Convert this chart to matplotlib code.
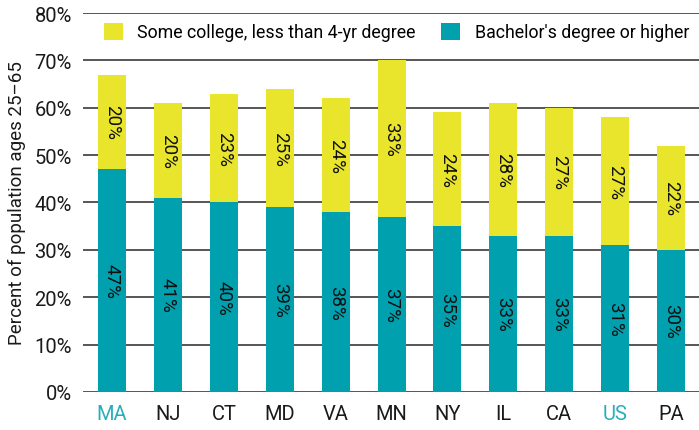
import matplotlib.pyplot as plt
import numpy as np

plt.rcParams['font.family'] = ['Roboto', 'DejaVu Sans']

states = ["MA", "NJ", "CT", "MD", "VA", "MN", "NY", "IL", "CA", "US", "PA"]
bachelor = [47, 41, 40, 39, 38, 37, 35, 33, 33, 31, 30]
some_college = [20, 20, 23, 25, 24, 33, 24, 28, 27, 27, 22]
highlight = ["MA", "US"]

teal = "#00A0AE"
yellow = "#E9E52D"
light_teal = "#27AEBB"

fig = plt.figure(figsize=(6.99, 4.31), dpi=100)
ax = fig.add_axes([0.1187, 0.0882, 0.8813, 0.8793])

x = np.arange(len(states))
ax.bar(x, bachelor, width=0.5, color=teal, zorder=3, label="Bachelor's degree or higher")
ax.bar(x, some_college, width=0.5, bottom=bachelor, color=yellow, zorder=3,
       label="Some college, less than 4-yr degree")

# labels sit in the middle of each segment, reading downward
for i in range(len(states)):
    ax.text(x[i], bachelor[i] / 2, f"{bachelor[i]}%", rotation=270,
            ha="center", va="center", fontsize=13.5, color="#111111", zorder=4)
    ax.text(x[i], bachelor[i] + some_college[i] / 2, f"{some_college[i]}%", rotation=270,
            ha="center", va="center", fontsize=13.5, color="#111111", zorder=4)

ax.set_xlim(-0.52, 10.5)
ax.set_ylim(0, 80)
ax.set_yticks(range(0, 81, 10))
ax.set_yticklabels([f"{v}%" for v in range(0, 81, 10)])
ax.set_xticks(x)
ax.set_xticklabels(states)
ax.tick_params(axis="both", length=0, labelsize=14.5, colors="#1a1a1a")
ax.tick_params(axis="y", pad=8)
ax.tick_params(axis="x", pad=9)
for lbl in ax.get_xticklabels():
    if lbl.get_text() in highlight:
        lbl.set_color(light_teal)

ax.grid(axis="y", color="#3a3a3a", linewidth=1.2, zorder=0)
for s in ax.spines.values():
    s.set_visible(False)

ax.set_ylabel("Percent of population ages 25–65", fontsize=13.5, color="#1a1a1a", labelpad=6)

handles, labels = ax.get_legend_handles_labels()
leg = ax.legend(handles[::-1], labels[::-1], ncol=2, loc="center left",
                bbox_to_anchor=(0.022, 0.95), frameon=False, fontsize=12.8,
                handlelength=1.1, handleheight=1.1, columnspacing=1.4,
                handletextpad=0.8, borderpad=0.2, borderaxespad=0.2)

fig.savefig("out.png", dpi=100)
